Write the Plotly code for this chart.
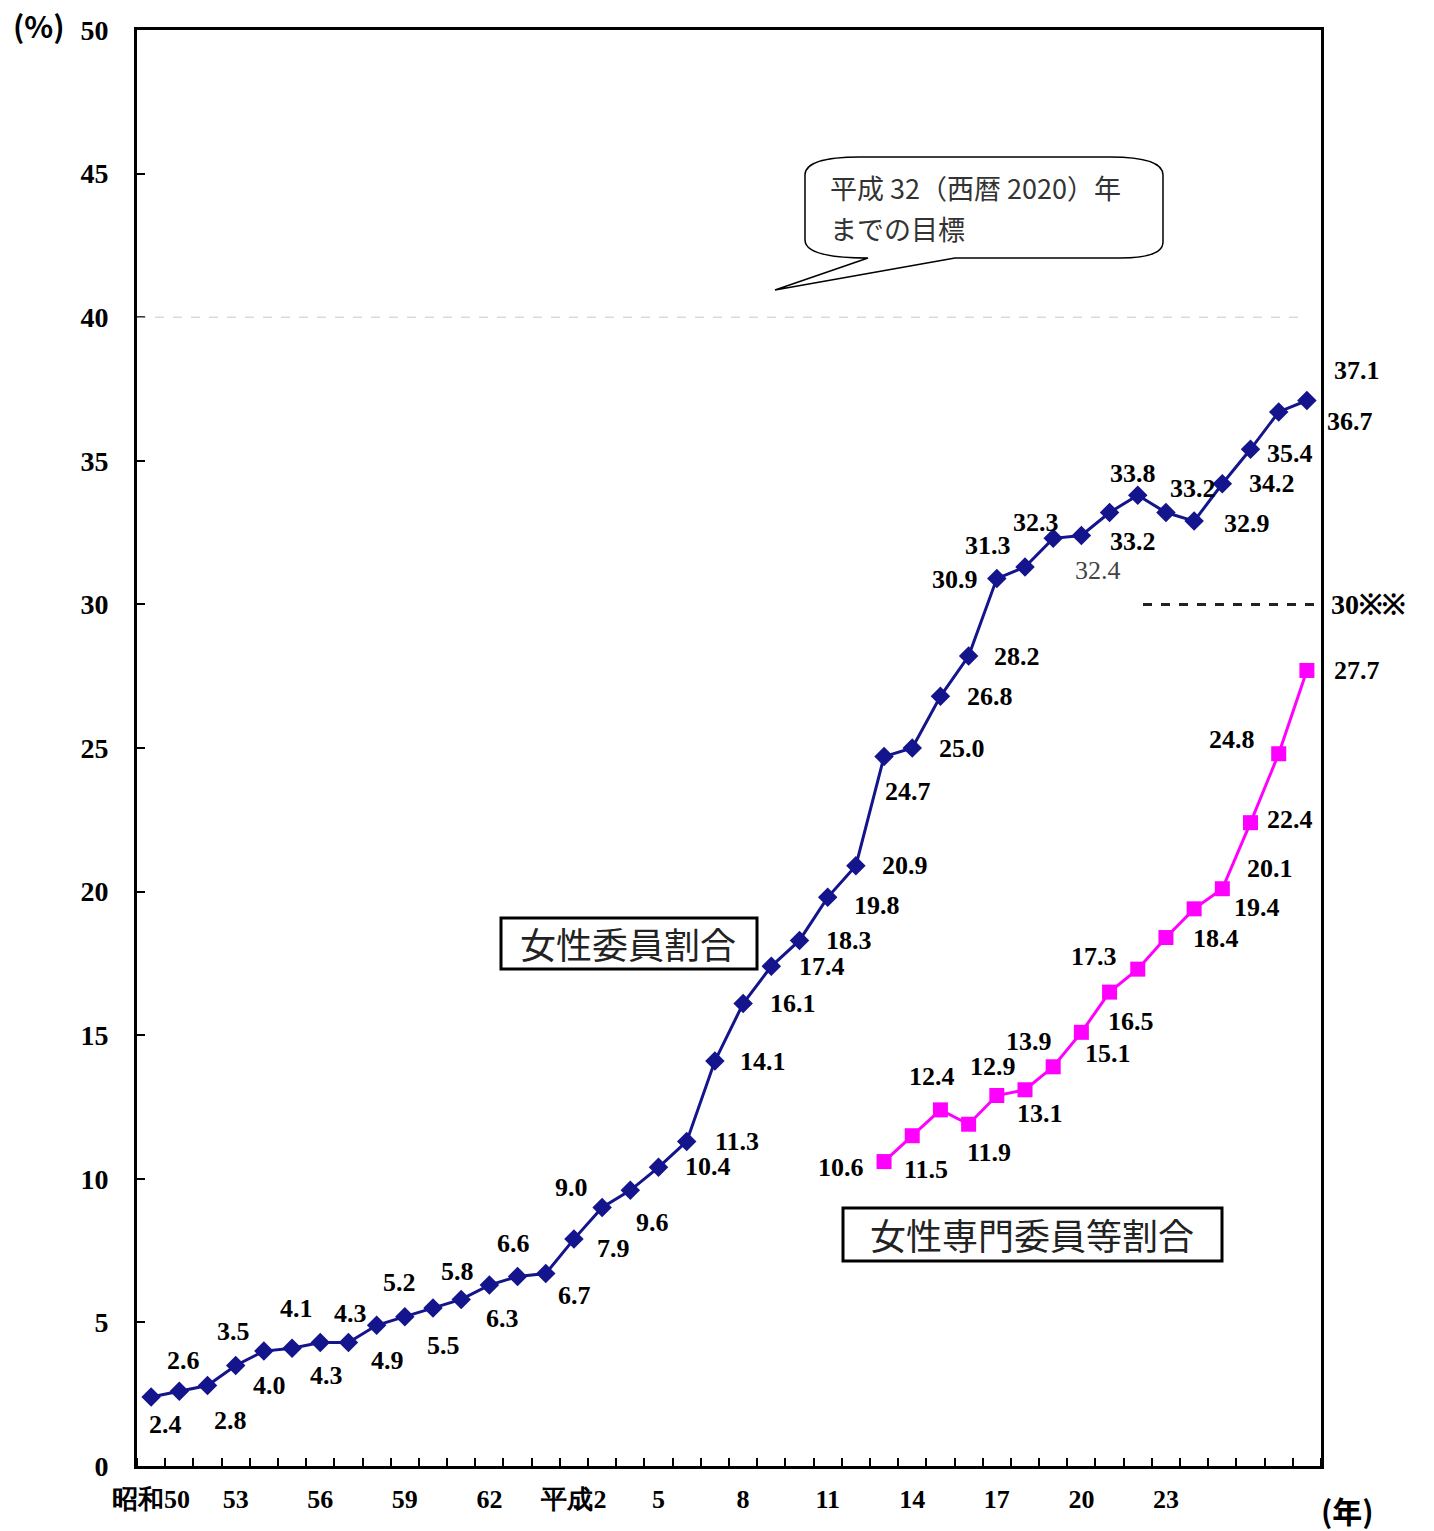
import plotly.graph_objects as go

# ---- data -------------------------------------------------------------
years = list(range(1975, 2017))
tick_years = [1975, 1978, 1981, 1984, 1987, 1990, 1993, 1996, 1999, 2002, 2005, 2008, 2011]
tick_text = ["昭和50", "53", "56", "59", "62", "平成2", "5", "8", "11", "14", "17", "20", "23"]

member_pct = [2.4, 2.6, 2.8, 3.5, 4.0, 4.1, 4.3, 4.3, 4.9, 5.2,
              5.5, 5.8, 6.3, 6.6, 6.7, 7.9, 9.0, 9.6, 10.4, 11.3,
              14.1, 16.1, 17.4, 18.3, 19.8, 20.9, 24.7, 25.0, 26.8, 28.2,
              30.9, 31.3, 32.3, 32.4, 33.2, 33.8, 33.2, 32.9, 34.2, 35.4,
              36.7, 37.1]

specialist_years = list(range(2001, 2017))
specialist_pct = [10.6, 11.5, 12.4, 11.9, 12.9, 13.1, 13.9, 15.1,
                  16.5, 17.3, 18.4, 19.4, 20.1, 22.4, 24.8, 27.7]

goal_pct = 40
specialist_goal_pct = 30

# ---- label placement (pixel offsets from each point: dx right, dy down) --
member_label_offsets = [
    (14, 27), (4, -31), (23, 35), (-2, -34), (6, 34), (4, -40), (6, 33), (2, -29),
    (11, 35), (-5, -34), (10, 37), (-4, -28), (13, 33), (-4, -33), (29, 22), (40, 9),
    (-31, -20), (22, 32), (49, -1), (50, 0), (48, 0), (50, 0), (51, 0), (50, 0),
    (49, 8), (49, 0), (24, 35), (50, 0), (50, 0), (48, 0), (-42, 1), (-37, -22),
    (-17, -16), (17, 35), (23, 29), (-5, -22), (27, -24), (53, 2), (50, 0), (39, 4),
    (71, 10), (50, -30),
]
specialist_label_offsets = [
    (-43, 6), (14, 34), (-8, -33), (20, 28), (-4, -29), (15, 24), (-24, -25), (27, 21),
    (21, 29), (-44, -13), (50, 1), (63, -1), (48, -20), (39, -3), (-47, -14), (50, 0),
]

# ---- layout geometry ---------------------------------------------------
W, H = 1434, 1531
M_L, M_R, M_T, M_B = 137, 113, 30, 65
PW, PH = W - M_L - M_R, H - M_T - M_B


def px(x):
    return (x - M_L) / PW


def py(y):
    return (H - M_B - y) / PH


NAVY = "#14148c"
MAGENTA = "#ff00ff"
NUM_FONT = dict(family="Liberation Serif", size=26, color="black", weight="bold")
JP_FONT = "Noto Sans CJK JP"

fig = go.Figure()

fig.add_trace(go.Scatter(
    x=years, y=member_pct, mode="lines+markers",
    line=dict(color=NAVY, width=3),
    marker=dict(symbol="diamond", size=15, color=NAVY),
    hoverinfo="x+y", showlegend=False,
))
fig.add_trace(go.Scatter(
    x=specialist_years, y=specialist_pct, mode="lines+markers",
    line=dict(color=MAGENTA, width=3),
    marker=dict(symbol="square", size=15, color=MAGENTA),
    hoverinfo="x+y", showlegend=False,
))

annotations = []

# value labels
for yr, v, (dx, dy) in zip(years, member_pct, member_label_offsets):
    font = dict(NUM_FONT)
    if yr == 2008:
        font.update(weight="normal", color="#444444")
    annotations.append(dict(
        x=yr, y=v, xref="x", yref="y", text=f"{v:.1f}", showarrow=False,
        xshift=dx, yshift=-dy, font=font,
    ))
for yr, v, (dx, dy) in zip(specialist_years, specialist_pct, specialist_label_offsets):
    annotations.append(dict(
        x=yr, y=v, xref="x", yref="y", text=f"{v:.1f}", showarrow=False,
        xshift=dx, yshift=-dy, font=NUM_FONT,
    ))

# axis unit labels
annotations.append(dict(x=px(39), y=py(25), xref="paper", yref="paper", text="(%)",
                        showarrow=False, xanchor="center", yanchor="middle",
                        font=dict(family=JP_FONT, size=30, color="black", weight="bold")))
annotations.append(dict(x=px(1348), y=py(1510), xref="paper", yref="paper", text="(年)",
                        showarrow=False, xanchor="center", yanchor="middle",
                        font=dict(family=JP_FONT, size=30, color="black", weight="bold")))

# target line label
annotations.append(dict(x=1, y=specialist_goal_pct, xref="paper", yref="y", text="30※※",
                        showarrow=False, xanchor="left", yanchor="middle", xshift=8,
                        font=dict(family="Liberation Serif", size=28, color="black", weight="bold")))

# series name boxes
annotations.append(dict(x=px(628), y=py(943), xref="paper", yref="paper", text="女性委員割合",
                        showarrow=False, xanchor="center", yanchor="middle",
                        font=dict(family=JP_FONT, size=36, color="#222222")))
annotations.append(dict(x=px(1032), y=py(1234), xref="paper", yref="paper", text="女性専門委員等割合",
                        showarrow=False, xanchor="center", yanchor="middle",
                        font=dict(family=JP_FONT, size=36, color="#222222")))

# callout text
annotations.append(dict(x=px(828), y=py(187), xref="paper", yref="paper",
                        text="平成 32（西暦 2020）年", showarrow=False,
                        xanchor="left", yanchor="middle",
                        font=dict(family=JP_FONT, size=27, color="#333333")))
annotations.append(dict(x=px(828), y=py(228), xref="paper", yref="paper",
                        text="までの目標", showarrow=False,
                        xanchor="left", yanchor="middle",
                        font=dict(family=JP_FONT, size=27, color="#333333")))

shapes = []
# 40% goal line
shapes.append(dict(type="line", xref="paper", yref="y", x0=0, x1=px(1305),
                   y0=goal_pct, y1=goal_pct,
                   line=dict(color="#c8c8c8", width=1, dash="dash")))
# 30% target line
shapes.append(dict(type="line", xref="paper", yref="y", x0=px(1143), x1=1,
                   y0=specialist_goal_pct, y1=specialist_goal_pct,
                   line=dict(color="#222222", width=3, dash="dash")))
# boxes around series names
shapes.append(dict(type="rect", xref="paper", yref="paper",
                   x0=px(501), x1=px(757), y0=py(918), y1=py(969),
                   line=dict(color="black", width=3), fillcolor="white", layer="below"))
shapes.append(dict(type="rect", xref="paper", yref="paper",
                   x0=px(843), x1=px(1222), y0=py(1208), y1=py(1261),
                   line=dict(color="black", width=3), fillcolor="white", layer="below"))

# speech bubble
bubble_pts = [
    ("M", [(805, 175)]),
    ("Q", [(805, 157), (860, 157)]),
    ("L", [(1110, 157)]),
    ("Q", [(1163, 157), (1163, 175)]),
    ("L", [(1163, 242)]),
    ("Q", [(1163, 258), (1120, 258)]),
    ("L", [(955, 258)]),
    ("L", [(775, 290)]),
    ("L", [(868, 258)]),
    ("Q", [(805, 258), (805, 240)]),
]
path = ""
for cmd, pts in bubble_pts:
    path += cmd + " " + " ".join(f"{px(a):.5f},{py(b):.5f}" for a, b in pts) + " "
path += "Z"
shapes.append(dict(type="path", xref="paper", yref="paper", path=path,
                   line=dict(color="black", width=1.5), fillcolor="white", layer="below"))

fig.update_layout(
    width=W, height=H,
    margin=dict(l=M_L, r=M_R, t=M_T, b=M_B),
    paper_bgcolor="white", plot_bgcolor="white",
    annotations=annotations, shapes=shapes,
    showlegend=False,
)
fig.update_xaxes(
    range=[1974.5, 2016.5], tickmode="array", tickvals=tick_years, ticktext=tick_text,
    ticks="", showgrid=False, zeroline=False,
    showline=True, mirror=True, linecolor="black", linewidth=3,
    minor=dict(ticks="inside", tick0=1974.5, dtick=1, ticklen=8, tickwidth=2,
               tickcolor="black", showgrid=False),
    tickfont=dict(family="Liberation Serif", size=26, color="black", weight="bold"),
    ticklabelstandoff=8,
)
fig.update_yaxes(
    range=[0, 50], dtick=5, tick0=0,
    ticks="inside", ticklen=8, tickwidth=2, tickcolor="black",
    showgrid=False, zeroline=False,
    showline=True, mirror=True, linecolor="black", linewidth=3,
    tickfont=dict(family="Liberation Serif", size=28, color="black", weight="bold"),
    ticklabelstandoff=20,
)

fig.write_html("out.html")
